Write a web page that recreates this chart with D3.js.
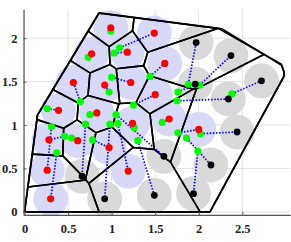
<!DOCTYPE html>
<html><head><meta charset="utf-8">
<script src="https://cdn.jsdelivr.net/npm/d3@7"></script>
<style>html,body{margin:0;padding:0;background:#fff;}svg{display:block;}</style>
</head><body>
<script>
// ---------- data ----------
const xTicks = [0, 0.5, 1, 1.5, 2, 2.5];
const yTicks = [0, 0.5, 1, 1.5, 2];
// region boundary (convex)
const boundary = [[0,0],[0.149,1.116],[0.855,2.291],[2.267,2.107],[2.726,1.827],[2.948,1.700],[2.979,1.611],[2.976,1.557],[2.129,0]];
// active nodes (red) and their start positions (green)
const activeNodes = [[0.99,2.12],[0.77,1.82],[0.56,1.49],[0.39,1.17],[0.83,1.14],[1.18,1.84],[1.49,2.06],[1.61,1.71],[1.22,1.49],[0.92,1.46],[1.50,1.35],[0.28,0.83],[0.61,0.82],[0.26,0.48],[0.30,0.15],[0.97,0.74],[1.24,1.02],[1.19,0.47],[1.66,1.07],[2.00,0.95]];
const activeStart = [[0.99,2.08],[0.73,1.78],[0.64,1.27],[0.26,1.19],[0.75,1.12],[1.03,1.83],[1.09,1.89],[1.44,1.56],[1.00,1.55],[0.97,1.38],[1.25,1.23],[0.46,0.87],[0.54,0.85],[0.31,0.98],[0.37,0.68],[0.78,0.83],[1.26,0.97],[1.07,1.02],[1.58,1.03],[1.76,0.91]];
// idle nodes (black) and their start positions (green)
const idleNodes = [[1.97,1.95],[2.37,1.80],[1.96,1.47],[2.34,1.30],[2.72,1.51],[2.44,0.92],[1.60,0.64],[2.14,0.54],[1.94,0.21],[1.49,0.19],[0.92,0.15],[0.66,0.41]];
const idleStart = [[1.88,1.47],[2.01,1.46],[1.76,1.38],[1.75,1.28],[2.38,1.36],[2.02,0.90],[1.05,1.12],[1.86,0.85],[1.99,0.70],[1.30,0.82],[0.98,1.01],[0.70,1.01]];
const sensingRadius = 0.2;

// ---------- setup ----------
const W = 291, H = 242;
const svg = d3.select("body").append("svg").attr("width", W).attr("height", H);
const x = d3.scaleLinear().domain([-0.012, 3.05]).range([23.5, 290.2]);
const y = d3.scaleLinear().domain([-0.035, 2.33]).range([214.9, 9.6]);
const rpx = x(sensingRadius) - x(0);

// grid
const grid = svg.append("g");
grid.selectAll("line.v").data(xTicks).join("line")
  .attr("x1", d => x(d)).attr("x2", d => x(d)).attr("y1", y.range()[0]).attr("y2", y.range()[1])
  .attr("stroke", "#e3e3e3").attr("stroke-width", 1);
grid.selectAll("line.h").data(yTicks).join("line")
  .attr("y1", d => y(d)).attr("y2", d => y(d)).attr("x1", x.range()[0]).attr("x2", x.range()[1])
  .attr("stroke", "#e3e3e3").attr("stroke-width", 1);

// circles
const g = svg.append("g");
g.selectAll("circle.idle").data(idleNodes).join("circle")
  .attr("cx", d => x(d[0])).attr("cy", d => y(d[1])).attr("r", rpx).attr("fill", "#d9d9d9");
g.selectAll("circle.act").data(activeNodes).join("circle")
  .attr("cx", d => x(d[0])).attr("cy", d => y(d[1])).attr("r", rpx).attr("fill", "#d8d9f7");

// voronoi of active nodes clipped to boundary
function cross(a, b, p) { return (b[0]-a[0])*(p[1]-a[1]) - (b[1]-a[1])*(p[0]-a[0]); }
function clip(subject, poly) {
  const c = d3.polygonCentroid(poly);
  const s = cross(poly[0], poly[1], c) > 0 ? 1 : -1;
  let out = subject;
  for (let i = 0; i < poly.length && out.length; i++) {
    const a = poly[i], b = poly[(i+1) % poly.length];
    const inside = p => s * cross(a, b, p) >= 0;
    const inter = (p, q) => { const d1 = cross(a,b,p), d2 = cross(a,b,q); const t = d1/(d1-d2); return [p[0]+t*(q[0]-p[0]), p[1]+t*(q[1]-p[1])]; };
    const input = out; out = [];
    for (let j = 0; j < input.length; j++) {
      const cur = input[j], prev = input[(j + input.length - 1) % input.length];
      if (inside(cur)) { if (!inside(prev)) out.push(inter(prev, cur)); out.push(cur); }
      else if (inside(prev)) out.push(inter(prev, cur));
    }
  }
  return out;
}
const vor = d3.Delaunay.from(activeNodes).voronoi([-2, -2, 5, 5]);
const cells = activeNodes.map((_, i) => clip(vor.cellPolygon(i).slice(0, -1), boundary));
const line = d3.line().x(d => x(d[0])).y(d => y(d[1]));
svg.append("g").selectAll("path").data(cells).join("path")
  .attr("d", d => line(d) + "Z").attr("fill", "none").attr("stroke", "#000").attr("stroke-width", 1.6).attr("stroke-linejoin", "round");
svg.append("path").attr("d", line(boundary) + "Z").attr("fill", "none").attr("stroke", "#000").attr("stroke-width", 1.8).attr("stroke-linejoin", "round");

// movement paths
const paths = activeNodes.map((d, i) => [activeStart[i], d]).concat(idleNodes.map((d, i) => [idleStart[i], d]));
svg.append("g").selectAll("path").data(paths).join("path")
  .attr("d", line).attr("fill", "none").attr("stroke", "#0000ff").attr("stroke-width", 1.7).attr("stroke-dasharray", "1.5 1.6");

// markers
const m = svg.append("g");
m.selectAll("circle.s").data(activeStart.concat(idleStart)).join("circle")
  .attr("cx", d => x(d[0])).attr("cy", d => y(d[1])).attr("r", 3.6).attr("fill", "#00ff00");
m.selectAll("circle.a").data(activeNodes).join("circle")
  .attr("cx", d => x(d[0])).attr("cy", d => y(d[1])).attr("r", 3.6).attr("fill", "#ff0000");
m.selectAll("circle.i").data(idleNodes).join("circle")
  .attr("cx", d => x(d[0])).attr("cy", d => y(d[1])).attr("r", 3.4).attr("fill", "#000");

// axes
const font = "'Liberation Serif','Times New Roman',serif";
const ax = svg.append("g").attr("transform", `translate(0,${y.range()[0]})`)
  .call(d3.axisBottom(x).tickValues(xTicks).tickFormat(d => String(d)).tickSizeInner(-3).tickSizeOuter(0).tickPadding(9));
const ay = svg.append("g").attr("transform", `translate(${x.range()[0]},0)`)
  .call(d3.axisLeft(y).tickValues(yTicks).tickFormat(d => String(d)).tickSizeInner(-3).tickSizeOuter(0).tickPadding(6));
[ax, ay].forEach(a => {
  a.select(".domain").attr("stroke", "#555").attr("stroke-width", 1.2);
  a.selectAll(".tick line").attr("stroke", "#555");
  a.selectAll("text").attr("fill", "#222").style("font-family", font).style("font-weight", "bold").style("font-size", "12.5px");
});
</script>
</body></html>
